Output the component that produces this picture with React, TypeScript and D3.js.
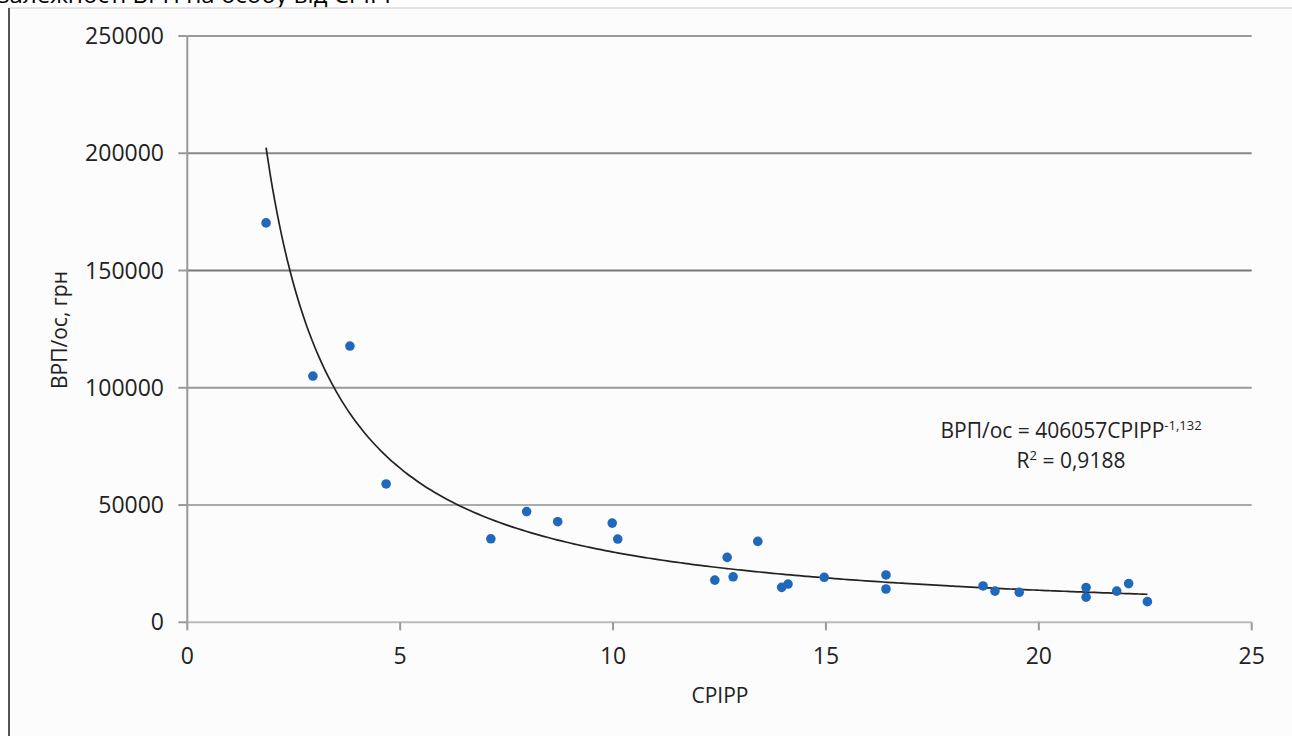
import React from "react";
import * as d3 from "d3";

const xValues = [1.85, 2.95, 3.82, 4.67, 7.13, 7.97, 8.7, 9.98, 10.11, 12.39, 12.68, 12.82, 13.4, 13.96, 14.11, 14.96, 16.41, 16.41, 18.69, 18.97, 19.54, 21.11, 21.11, 21.83, 22.11, 22.55];
const yValues = [170300, 105000, 117800, 59000, 35600, 47200, 42900, 42300, 35500, 18000, 27700, 19400, 34500, 14900, 16300, 19200, 20200, 14200, 15500, 13300, 12800, 14800, 10700, 13300, 16500, 8800];
const xTicks = [0, 5, 10, 15, 20, 25];
const yTicks = [0, 50000, 100000, 150000, 200000, 250000];
const gridColors = ["#bbb", "#aaa", "#999", "#777", "#888", "#999"];
const trendCoef = 406057;
const trendExp = -1.132;
const xTitle = "CPIPP";
const yTitle = "ВРП/ос, грн";
const eqMain = "ВРП/ос = 406057CPIPP";
const eqExp = "-1,132";
const r2Text = "= 0,9188";
const topText = "залежності ВРП на особу від СРІРР";

const W = 1292;
const H = 736;
const FONT = "'Open Sans', 'DejaVu Sans', sans-serif";

export default function App() {
  const x = d3.scaleLinear().domain([0, 25]).range([187.3, 1251.7]);
  const y = d3.scaleLinear().domain([0, 250000]).range([622.3, 36]);
  const xMin = d3.min(xValues) as number;
  const xMax = d3.max(xValues) as number;
  const trendXs = d3.range(0, 201).map((i) => xMin + ((xMax - xMin) * i) / 200);
  const line = d3
    .line<number>()
    .x((d) => x(d))
    .y((d) => y(trendCoef * Math.pow(d, trendExp)))
    .curve(d3.curveMonotoneX);

  return (
    <svg
      width={W}
      height={H}
      style={{ position: "absolute", left: 0, top: 0, background: "#fff" }}
      fontFamily={FONT}
    >
      <text x={-2} y={3} fontSize={24} fill="#000">{topText}</text>
      <rect x={8} y={8} width={W - 8} height={H - 8} fill="#fcfcfc" />
      <line x1={8} x2={W} y1={8} y2={8} stroke="#ddd" strokeWidth={1.5} />
      <line x1={9} x2={9} y1={8} y2={H} stroke="#555" strokeWidth={2} />

      {yTicks.map((t, i) =>
        t === 0 ? null : (
          <line key={"g" + t} x1={x(0)} x2={x(25)} y1={y(t)} y2={y(t)} stroke={gridColors[i]} strokeWidth={2} />
        )
      )}
      <line x1={x(0)} x2={x(0)} y1={y(250000)} y2={y(0)} stroke="#999" strokeWidth={2} />
      <line x1={x(0)} x2={x(25)} y1={y(0)} y2={y(0)} stroke="#bbb" strokeWidth={2} />

      {yTicks.map((t) => (
        <g key={"yt" + t}>
          <line x1={x(0) - 9} x2={x(0)} y1={y(t)} y2={y(t)} stroke="#999" strokeWidth={2} />
          <text x={164} y={y(t)} dy="0.35em" textAnchor="end" fontSize={23} fill="#222">{t}</text>
        </g>
      ))}
      {xTicks.map((t) => (
        <g key={"xt" + t}>
          <line x1={x(t)} x2={x(t)} y1={y(0)} y2={y(0) + 8} stroke="#999" strokeWidth={2} />
          <text x={x(t)} y={664} textAnchor="middle" fontSize={23} fill="#222">{t}</text>
        </g>
      ))}

      <text x={720} y={703} textAnchor="middle" fontSize={21} fill="#222">{xTitle}</text>
      <text transform="translate(67,330) rotate(-90)" textAnchor="middle" fontSize={21} fill="#222">{yTitle}</text>

      <path d={line(trendXs) || ""} fill="none" stroke="#222" strokeWidth={1.7} />

      {xValues.map((v, i) => (
        <circle key={"p" + i} cx={x(v)} cy={y(yValues[i])} r={4.8} fill="#1f68bb" />
      ))}

      <text x={1071} y={438} textAnchor="middle" fontSize={21} fill="#222">
        {eqMain}
        <tspan fontSize={13} dy={-8}>{eqExp}</tspan>
      </text>
      <text x={1071} y={468} textAnchor="middle" fontSize={21} fill="#222">
        R<tspan fontSize={13} dy={-8}>2</tspan>
        <tspan dy={8}> {r2Text}</tspan>
      </text>
    </svg>
  );
}
